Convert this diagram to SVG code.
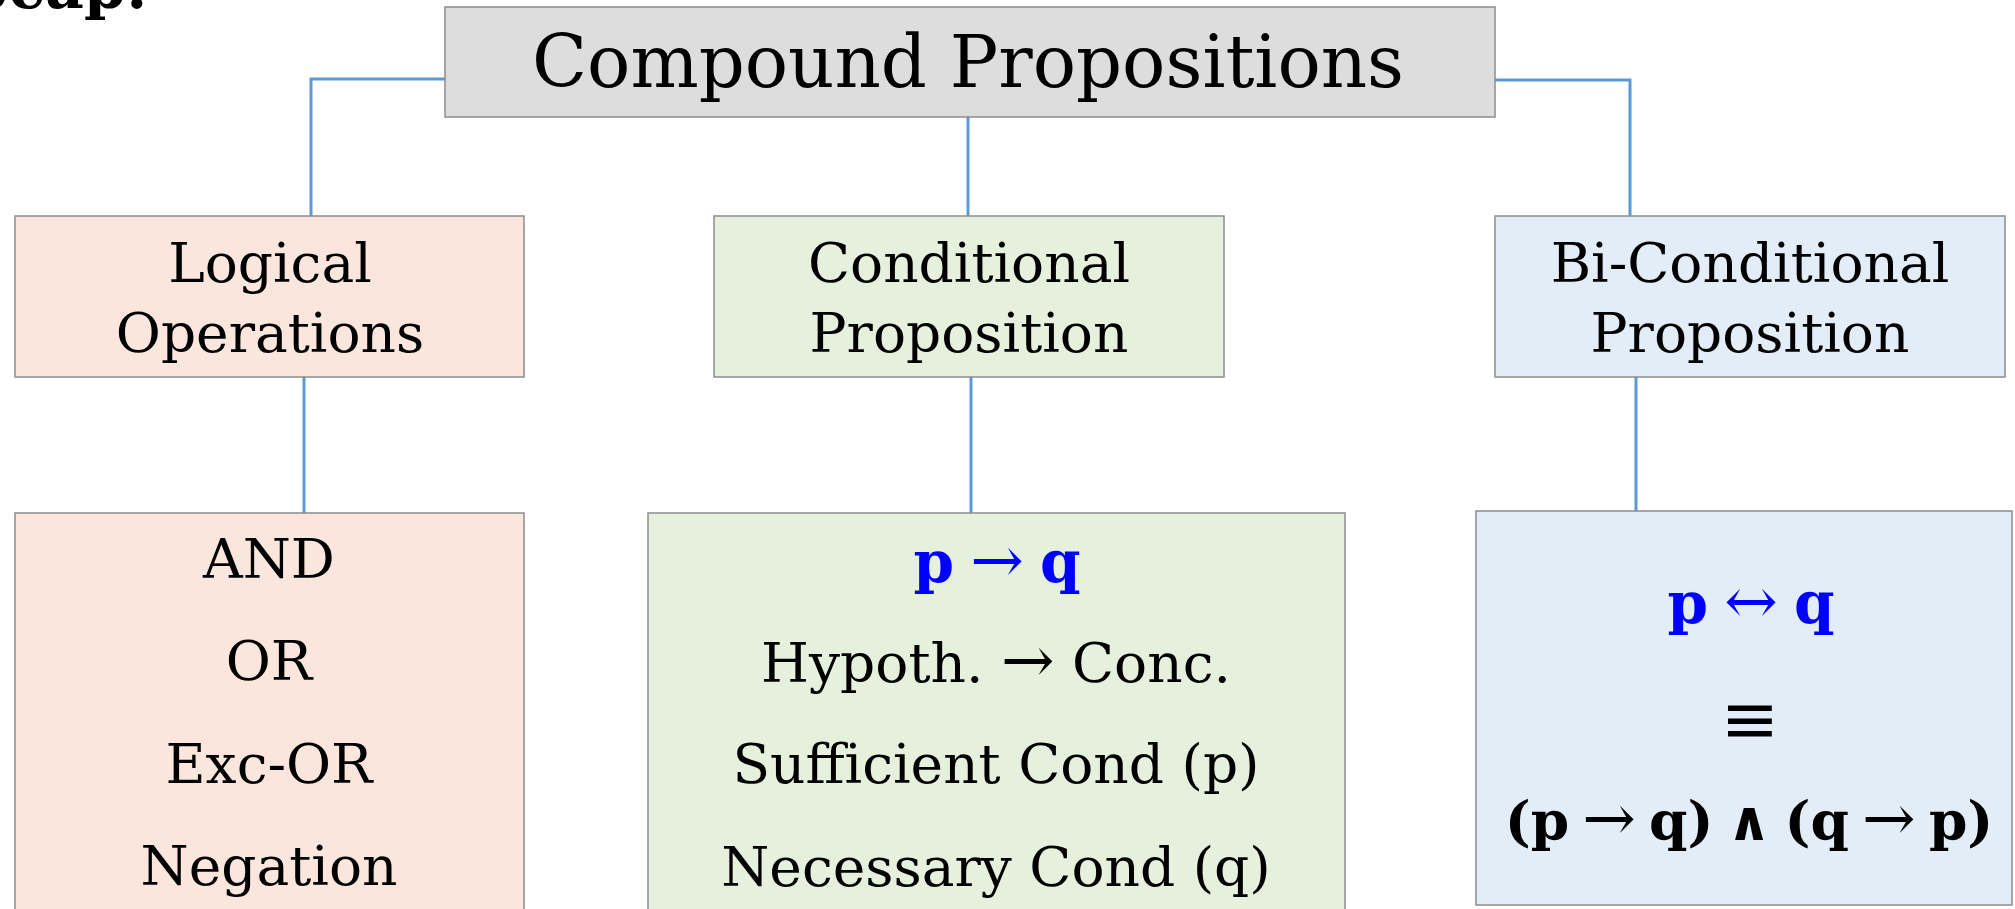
<svg xmlns="http://www.w3.org/2000/svg" width="2015" height="909" viewBox="0 0 2015 909">
<style>
.box{stroke:#8c8c8c;stroke-width:1.5}
.gray{fill:#dddddd}
.peach{fill:#fae6dc}
.green{fill:#e5f0dd}
.blue{fill:#e2edf8}
.t{font-family:"DejaVu Serif","Liberation Serif",serif;fill:#000;text-anchor:middle}
.mid{font-size:55px}
.b{font-weight:bold}
.arr{font-weight:normal;font-size:64px}
.conn{fill:none;stroke:#5b9bd5;stroke-width:3}
</style>
<rect width="2015" height="909" fill="#ffffff"/>
<text x="148" y="8" class="t b" style="font-size:60px;text-anchor:end">Recap:</text>
<g id="connectors">
<path class="conn" d="M445,79 H311 V216"/>
<path class="conn" d="M968,117 V216"/>
<path class="conn" d="M1495,80 H1630 V216"/>
<path class="conn" d="M304,377 V513"/>
<path class="conn" d="M971,377 V513"/>
<path class="conn" d="M1636,377 V511"/>
</g>
<g id="compound">
<rect class="box gray" x="445" y="7" width="1050" height="110"/>
<text class="t" x="968" y="87" style="font-size:72px">Compound Propositions</text>
</g>
<g id="logical">
<rect class="box peach" x="15" y="216" width="509" height="161"/>
<text class="t mid" x="270" y="282">Logical</text>
<text class="t mid" x="270" y="352">Operations</text>
</g>
<g id="conditional">
<rect class="box green" x="714" y="216" width="510" height="161"/>
<text class="t mid" x="969" y="282">Conditional</text>
<text class="t mid" x="969" y="352">Proposition</text>
</g>
<g id="biconditional">
<rect class="box blue" x="1495" y="216" width="510" height="161"/>
<text class="t mid" x="1750" y="282">Bi-Conditional</text>
<text class="t mid" x="1750" y="352">Proposition</text>
</g>
<g id="operations">
<rect class="box peach" x="15" y="513" width="509" height="420"/>
<text class="t mid" x="269" y="578">AND</text>
<text class="t mid" x="269" y="680">OR</text>
<text class="t mid" x="269" y="783">Exc-OR</text>
<text class="t mid" x="269" y="885">Negation</text>
</g>
<g id="conditional-detail">
<rect class="box green" x="648" y="513" width="697" height="420"/>
<text class="t b" x="997" y="582" style="font-size:58px;fill:#0000ff;word-spacing:-4px">p <tspan class="arr">→</tspan> q</text>
<text class="t mid" x="996" y="682">Hypoth. <tspan class="arr">→</tspan> Conc.</text>
<text class="t mid" x="996" y="783">Sufficient Cond (p)</text>
<text class="t mid" x="996" y="886">Necessary Cond (q)</text>
</g>
<g id="biconditional-detail">
<rect class="box blue" x="1476" y="511" width="536" height="394"/>
<text class="t b" x="1751" y="623" style="font-size:58px;fill:#0000ff;word-spacing:-4px">p <tspan class="arr">↔</tspan> q</text>
<text class="t" x="1750" y="743" style="font-size:70px">≡</text>
<text class="t b" x="1749" y="840" style="font-size:55px;word-spacing:-6px">(p <tspan class="arr">→</tspan> q) ∧ (q <tspan class="arr">→</tspan> p)</text>
</g>
</svg>
